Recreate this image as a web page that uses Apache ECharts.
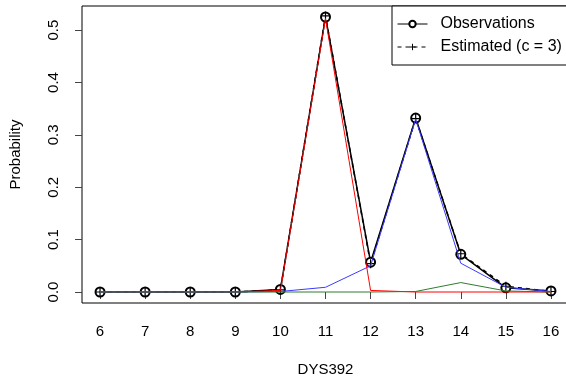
<!DOCTYPE html>
<html>
<head>
<meta charset="utf-8">
<script src="https://cdn.jsdelivr.net/npm/echarts@6/dist/echarts.min.js"></script>
<style>
  html, body { margin: 0; padding: 0; background: #fff; }
  #chart { width: 566px; height: 378px; }
</style>
</head>
<body>
<div id="chart"></div>
<script>
// DYS392 allele values
const alleles = [6, 7, 8, 9, 10, 11, 12, 13, 14, 15, 16];
const xTicks = [6, 7, 8, 9, 10, 11, 12, 13, 14, 15, 16];
const yTicks = [0, 0.1, 0.2, 0.3, 0.4, 0.5];

const observed = [0, 0, 0, 0, 0.005, 0.525, 0.057, 0.332, 0.072, 0.008, 0.002];
const estimated = [0, 0, 0, 0, 0.004, 0.527, 0.054, 0.331, 0.073, 0.011, 0.001];
const comp1 = [0, 0, 0, 0, 0.003, 0.522, 0.003, 0, 0, 0, 0];
const comp2 = [0, 0, 0, 0, 0.001, 0.009, 0.05, 0.33, 0.055, 0.009, 0.001];
const comp3 = [0, 0, 0, 0, 0, 0, 0, 0.001, 0.018, 0.002, 0];

const pair = (ys) => alleles.map((x, i) => [x, ys[i]]);

const plusPath = 'path://M0,-1L0,1M-1,0L1,0';

const chart = echarts.init(document.getElementById('chart'));
chart.setOption({
    animation: false,
    textStyle: { fontFamily: 'Liberation Sans, Arial, sans-serif' },
    grid: {
        left: 82, top: 6, width: 487, height: 297,
        outerBoundsMode: 'none', containLabel: false,
        show: true, borderColor: '#000', borderWidth: 1, backgroundColor: 'transparent'
    },
    legend: {
        data: ['Observations', 'Estimated (c = 3)'],
        orient: 'vertical',
        left: 392, top: 6,
        itemWidth: 30, itemHeight: 8, itemGap: 7,
        padding: [10, 20, 10, 5],
        borderColor: '#000', borderWidth: 1, borderRadius: 0,
        backgroundColor: '#fff',
        lineStyle: { width: 1 },
        itemStyle: { borderWidth: 1 },
        textStyle: {
            color: '#000', fontSize: 16, padding: [0, 0, 0, 8],
            fontFamily: 'Liberation Sans, Arial, sans-serif'
        }
    },
    xAxis: {
        type: 'value',
        min: 5.6, max: 16.4,
        name: 'DYS392', nameLocation: 'middle', nameGap: 59,
        nameTextStyle: { color: '#000', fontSize: 15 },
        axisLine: { show: false },
        splitLine: { show: false },
        axisTick: { show: true, inside: false, length: 7, customValues: xTicks, lineStyle: { color: '#444' } },
        axisLabel: { customValues: xTicks, color: '#000', fontSize: 15, margin: 21 }
    },
    yAxis: {
        type: 'value',
        min: -0.021, max: 0.546,
        name: 'Probability', nameLocation: 'middle', nameGap: 59,
        nameTextStyle: { color: '#000', fontSize: 15 },
        axisLine: { show: false },
        splitLine: { show: false },
        axisTick: { show: true, inside: false, length: 7, customValues: yTicks, lineStyle: { color: '#444' } },
        axisLabel: {
            customValues: yTicks, color: '#000', fontSize: 15, margin: 21, rotate: 90,
            formatter: (v) => v.toFixed(1)
        }
    },
    series: [
        {
            name: 'Observations', type: 'line', data: pair(observed),
            symbol: 'emptyCircle', symbolSize: 9,
            itemStyle: { color: '#000', borderWidth: 1.5 },
            lineStyle: { color: '#000', width: 1.5 }, z: 3
        },
        {
            name: 'Estimated (c = 3)', type: 'line', data: pair(estimated),
            symbol: plusPath, symbolSize: 9,
            itemStyle: { color: '#000', borderColor: '#000', borderWidth: 1.2 },
            lineStyle: { color: '#000', width: 1.5, type: [4, 4] }, z: 3
        },
        {
            name: 'comp1', type: 'line', data: pair(comp1), symbol: 'none',
            lineStyle: { color: '#ff0000', width: 1 }, z: 4
        },
        {
            name: 'comp2', type: 'line', data: pair(comp2), symbol: 'none',
            lineStyle: { color: '#3a3aff', width: 1 }, z: 4
        },
        {
            name: 'comp3', type: 'line', data: pair(comp3), symbol: 'none',
            lineStyle: { color: '#2e7d2e', width: 1 }, z: 4
        }
    ]
});
</script>
</body>
</html>
